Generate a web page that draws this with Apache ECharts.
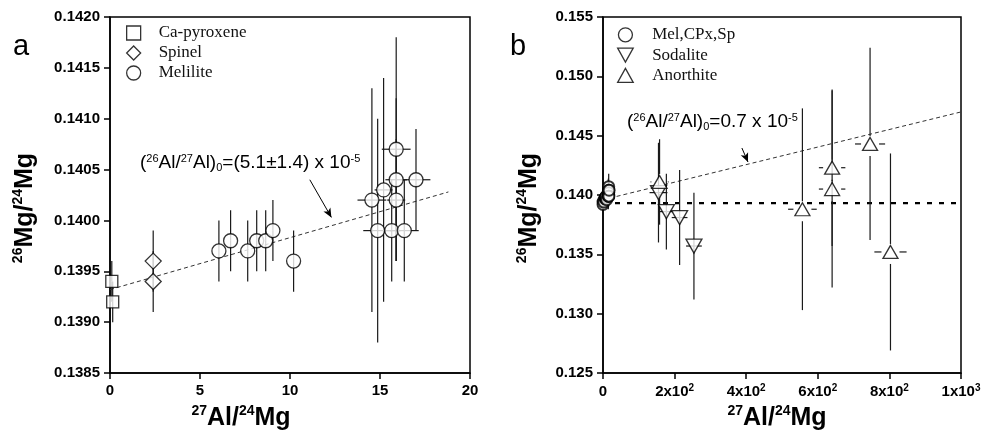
<!DOCTYPE html>
<html>
<head>
<meta charset="utf-8">
<script src="https://cdn.jsdelivr.net/npm/echarts@6/dist/echarts.min.js"></script>
<style>
html,body{margin:0;padding:0;background:#fff;}
#c{width:985px;height:445px;}
</style>
</head>
<body>
<div id="c"></div>
<script>
// ---------- Panel a data ----------
const cpxX = [0.1, 0.15];
const cpxY = [0.1394, 0.1392];
const cpxYErr = [0.0002, 0.0002];

const spX = [2.4, 2.4];
const spY = [0.1396, 0.1394];
const spYErr = [0.0003, 0.0003];

const melX = [6.05, 6.7, 7.65, 8.15, 8.65, 9.05, 10.2, 14.55, 14.87, 15.2, 15.9, 15.9, 15.9, 15.65, 16.35, 17.0];
const melY = [0.1397, 0.1398, 0.1397, 0.1398, 0.1398, 0.1399, 0.1396, 0.1402, 0.1399, 0.1403, 0.1407, 0.1404, 0.1402, 0.1399, 0.1399, 0.1404];
const melYErr = [0.0003, 0.0003, 0.0003, 0.0003, 0.0003, 0.0003, 0.0003, 0.0011, 0.0011, 0.0011, 0.0011, 0.0008, 0.0006, 0.0005, 0.0005, 0.0005];
const melXErr = [0, 0, 0, 0, 0, 0, 0, 0.8, 0.8, 0.5, 0.8, 0.6, 0.5, 0.5, 0.8, 0.8];

const trendA = [[0, 0.13932], [18.8, 0.14028]];
const arrowA = [[11.1, 0.14040], [12.3, 0.14003]];

// ---------- Panel b data ----------
const sodX = [155, 177, 214, 254];
const sodY = [0.1402, 0.1386, 0.1381, 0.1357];
const sodYErr = [0.0042, 0.0032, 0.0040, 0.0045];
const sodXErr = [25, 20, 22, 22];

const anX = [158, 557, 640, 640, 746, 803];
const anY = [0.1411, 0.1388, 0.1423, 0.1405, 0.1443, 0.1352];
const anYErr = [0.0036, 0.0085, 0.0066, 0.0083, 0.0081, 0.0083];
const anXErr = [23, 40, 37, 37, 42, 45];

const trendB = [[0, 0.1396], [1000, 0.1470]];
const refB = [[0, 0.13932], [1000, 0.13932]];
const arrowB = [[388, 0.14396], [405, 0.14278]];

// tick settings
const xTicksA = {min: 0, max: 20, interval: 5};
const yTicksA = {min: 0.1385, max: 0.1420, interval: 0.0005};
const xTicksB = {min: 0, max: 1000, interval: 200};
const yTicksB = {min: 0.125, max: 0.155, interval: 0.005};

// ---------- helpers ----------
const zip = (xs, ys, ey, ex) => xs.map((x, i) => [x, ys[i], ey ? ey[i] : 0, ex ? ex[i] : 0]);
const pts = (xs, ys) => xs.map((x, i) => [x, ys[i]]);

function errRender(gTop, gBot, gH) {
  return function (params, api) {
    const x = api.value(0), y = api.value(1), ey = api.value(2), ex = api.value(3);
    const c = api.coord([x, y]);
    const style = {stroke: '#1a1a1a', lineWidth: 1.2};
    const ch = [];
    if (ey > 0) {
      const t = api.coord([x, y + ey]), b = api.coord([x, y - ey]);
      ch.push({type: 'line', shape: {x1: c[0], y1: t[1], x2: c[0], y2: c[1] - gTop}, style});
      ch.push({type: 'line', shape: {x1: c[0], y1: c[1] + gBot, x2: c[0], y2: b[1]}, style});
    }
    if (ex > 0) {
      const l = api.coord([x - ex, y]), r = api.coord([x + ex, y]);
      ch.push({type: 'line', shape: {x1: l[0], y1: c[1], x2: c[0] - gH, y2: c[1]}, style});
      ch.push({type: 'line', shape: {x1: c[0] + gH, y1: c[1], x2: r[0], y2: c[1]}, style});
    }
    return {type: 'group', children: ch};
  };
}

const FONT = 'Arial, "Liberation Sans", sans-serif';
const SERIF = '"Liberation Serif", "Times New Roman", serif';
const markerStyle = {color: '#fff', borderColor: '#000', borderWidth: 1.3};

function axisCommon() {
  return {
    axisLine: {show: true, lineStyle: {color: '#000', width: 1.5}},
    axisTick: {show: true, length: 6, lineStyle: {color: '#000', width: 1.5}},
    splitLine: {show: false},
    axisLabel: {color: '#000', fontFamily: FONT, fontWeight: 'bold', fontSize: 15}
  };
}

const supRich = {
  n: {fontFamily: FONT, fontWeight: 'bold', fontSize: 15, lineHeight: 18, color: '#000'},
  s: {fontFamily: FONT, fontWeight: 'bold', fontSize: 10, lineHeight: 12, verticalAlign: 'top', color: '#000'}
};

const titleRich = {
  b: {fontFamily: FONT, fontWeight: 'bold', fontSize: 25, lineHeight: 28, fill: '#000'},
  s: {fontFamily: FONT, fontWeight: 'bold', fontSize: 14, lineHeight: 16, verticalAlign: 'top', fill: '#000'}
};
const annRich = {
  t: {fontFamily: FONT, fontSize: 19, lineHeight: 20, fill: '#000'},
  p: {fontFamily: FONT, fontSize: 11, lineHeight: 12, verticalAlign: 'top', fill: '#000'},
  d: {fontFamily: FONT, fontSize: 11, lineHeight: 10, verticalAlign: 'bottom', fill: '#000'}
};

const chart = echarts.init(document.getElementById('c'), null, {renderer: 'canvas'});

const melErrB = zip(cpxX, cpxY, cpxYErr).concat(zip(spX, spY, spYErr)).concat(zip(melX, melY, melYErr));
const melPtsB = pts(cpxX, cpxY).concat(pts(spX, spY)).concat(pts(melX, melY));

const option = {
  animation: false,
  backgroundColor: '#fff',
  grid: [
    {left: 110, right: 515, top: 17, bottom: 72, show: true, borderColor: '#000', borderWidth: 1.5, backgroundColor: 'transparent'},
    {left: 603, right: 24, top: 17, bottom: 72, show: true, borderColor: '#000', borderWidth: 1.5, backgroundColor: 'transparent'}
  ],
  xAxis: [
    Object.assign(axisCommon(), {gridIndex: 0, type: 'value', min: xTicksA.min, max: xTicksA.max, interval: xTicksA.interval,
      axisLabel: Object.assign(axisCommon().axisLabel, {margin: 10})}),
    Object.assign(axisCommon(), {gridIndex: 1, type: 'value', min: xTicksB.min, max: xTicksB.max, interval: xTicksB.interval,
      axisLabel: {margin: 10, color: '#000',
        formatter: v => v === 0 ? '{n|0}' : (v >= 1000 ? '{n|' + (v / 1000) + 'x10}{s|3}' : '{n|' + (v / 100) + 'x10}{s|2}'),
        rich: supRich}})
  ],
  yAxis: [
    Object.assign(axisCommon(), {gridIndex: 0, type: 'value', min: yTicksA.min, max: yTicksA.max, interval: yTicksA.interval,
      axisLabel: Object.assign(axisCommon().axisLabel, {margin: 10, formatter: v => v.toFixed(4)})}),
    Object.assign(axisCommon(), {gridIndex: 1, type: 'value', min: yTicksB.min, max: yTicksB.max, interval: yTicksB.interval,
      axisLabel: Object.assign(axisCommon().axisLabel, {margin: 10, formatter: v => v.toFixed(3)})})
  ],
  legend: [
    {orient: 'vertical', left: 126, top: 24.5, padding: 0, itemWidth: 14, itemHeight: 14, itemGap: 3,
      data: [{name: 'Ca-pyroxene', icon: 'rect'}, {name: 'Spinel', icon: 'diamond'}, {name: 'Melilite', icon: 'circle'}],
      itemStyle: {color: '#fff', borderColor: '#000', borderWidth: 1.3},
      textStyle: {fontFamily: SERIF, fontSize: 17, color: '#111', lineHeight: 14, padding: [0, 0, 0, 13]}, selectedMode: false},
    {orient: 'vertical', left: 617, top: 26.3, padding: 0, itemWidth: 16, itemHeight: 14, itemGap: 3.3,
      data: [{name: 'Mel,CPx,Sp', icon: 'circle'}, {name: 'Sodalite', icon: 'path://M0,0L10,0L5,9Z'}, {name: 'Anorthite', icon: 'path://M5,0L10,9L0,9Z'}],
      itemStyle: {color: '#fff', borderColor: '#000', borderWidth: 1.3},
      textStyle: {fontFamily: SERIF, fontSize: 17, color: '#111', lineHeight: 14, padding: [0, 0, 0, 13.7]}, selectedMode: false}
  ],
  series: [
    // panel a
    {type: 'line', xAxisIndex: 0, yAxisIndex: 0, data: trendA, showSymbol: false, symbol: 'none',
      lineStyle: {color: '#333', width: 1, type: [4, 3]}, z: 1, silent: true,
      markLine: {silent: true, symbol: ['none', 'arrow'], symbolSize: [6, 9], label: {show: false},
        lineStyle: {color: '#000', type: 'solid', width: 1},
        data: [[{coord: arrowA[0]}, {coord: arrowA[1]}]]}},
    {type: 'custom', xAxisIndex: 0, yAxisIndex: 0, renderItem: errRender(0, 0, 0), data: zip(cpxX, cpxY, cpxYErr), encode: {x: 0, y: 1}, z: 2, silent: true},
    {type: 'custom', xAxisIndex: 0, yAxisIndex: 0, renderItem: errRender(0, 0, 0), data: zip(spX, spY, spYErr), encode: {x: 0, y: 1}, z: 2, silent: true},
    {type: 'custom', xAxisIndex: 0, yAxisIndex: 0, renderItem: errRender(0, 0, 0), data: zip(melX, melY, melYErr, melXErr), encode: {x: 0, y: 1}, z: 2, silent: true},
    {name: 'Ca-pyroxene', type: 'scatter', xAxisIndex: 0, yAxisIndex: 0, symbol: 'rect', symbolSize: 12, data: pts(cpxX, cpxY), itemStyle: markerStyle, z: 3},
    {name: 'Spinel', type: 'scatter', xAxisIndex: 0, yAxisIndex: 0, symbol: 'diamond', symbolSize: [16, 16], data: pts(spX, spY), itemStyle: markerStyle, z: 3},
    {name: 'Melilite', type: 'scatter', xAxisIndex: 0, yAxisIndex: 0, symbol: 'circle', symbolSize: 14, data: pts(melX, melY), itemStyle: markerStyle, z: 3},
    // panel b
    {type: 'line', xAxisIndex: 1, yAxisIndex: 1, data: refB, showSymbol: false, symbol: 'none',
      lineStyle: {color: '#000', width: 2.2, type: [5, 7]}, z: 1, silent: true},
    {type: 'line', xAxisIndex: 1, yAxisIndex: 1, data: trendB, showSymbol: false, symbol: 'none',
      lineStyle: {color: '#333', width: 1, type: [4, 3]}, z: 1, silent: true,
      markLine: {silent: true, symbol: ['none', 'arrow'], symbolSize: [6, 9], label: {show: false},
        lineStyle: {color: '#000', type: 'solid', width: 1},
        data: [[{coord: arrowB[0]}, {coord: arrowB[1]}]]}},
    {type: 'custom', xAxisIndex: 1, yAxisIndex: 1, renderItem: errRender(0, 0, 0), data: melErrB, encode: {x: 0, y: 1}, z: 2, silent: true},
    {type: 'custom', xAxisIndex: 1, yAxisIndex: 1, renderItem: errRender(0, 0, 0), data: zip(sodX, sodY, sodYErr, sodXErr), encode: {x: 0, y: 1}, z: 2, silent: true},
    {type: 'custom', xAxisIndex: 1, yAxisIndex: 1, renderItem: errRender(8, 12, 9), data: zip(anX, anY, anYErr, anXErr), encode: {x: 0, y: 1}, z: 2, silent: true},
    {name: 'Mel,CPx,Sp', type: 'scatter', xAxisIndex: 1, yAxisIndex: 1, symbol: 'circle', symbolSize: 11, data: melPtsB,
      itemStyle: {color: '#fff', borderColor: '#000', borderWidth: 2}, z: 3},
    {name: 'Sodalite', type: 'scatter', xAxisIndex: 1, yAxisIndex: 1, symbol: 'path://M0,0L10,0L5,9Z', symbolSize: [16, 14], data: pts(sodX, sodY), itemStyle: markerStyle, z: 3},
    {name: 'Anorthite', type: 'scatter', xAxisIndex: 1, yAxisIndex: 1, symbol: 'path://M5,0L10,9L0,9Z', symbolSize: [15, 13], data: pts(anX, anY), itemStyle: markerStyle, z: 3}
  ],
  graphic: [
    {type: 'text', x: 13, y: 32, style: {text: 'a', font: '29px ' + FONT, fill: '#000', verticalAlign: 'alphabetic'}},
    {type: 'text', x: 510, y: 32, style: {text: 'b', font: '29px ' + FONT, fill: '#000', verticalAlign: 'alphabetic'}},
    // axis titles
    {type: 'text', x: 241, y: 418, style: {text: '{s|27}{b|Al/}{s|24}{b|Mg}', rich: titleRich, align: 'center', verticalAlign: 'middle'}},
    {type: 'text', x: 777, y: 418, style: {text: '{s|27}{b|Al/}{s|24}{b|Mg}', rich: titleRich, align: 'center', verticalAlign: 'middle'}},
    {type: 'text', x: 25, y: 208, rotation: Math.PI / 2, style: {text: '{s|26}{b|Mg/}{s|24}{b|Mg}', rich: titleRich, align: 'center', verticalAlign: 'middle'}},
    {type: 'text', x: 529, y: 208, rotation: Math.PI / 2, style: {text: '{s|26}{b|Mg/}{s|24}{b|Mg}', rich: titleRich, align: 'center', verticalAlign: 'middle'}},
    // annotations
    {type: 'text', x: 140, y: 163, style: {text: '{t|(}{p|26}{t|Al/}{p|27}{t|Al)}{d|0}{t|=(5.1±1.4) x 10}{p|-5}', rich: annRich, align: 'left', verticalAlign: 'middle'}},
    {type: 'text', x: 627, y: 122, style: {text: '{t|(}{p|26}{t|Al/}{p|27}{t|Al)}{d|0}{t|=0.7 x 10}{p|-5}', rich: annRich, align: 'left', verticalAlign: 'middle'}}
  ]
};
chart.setOption(option);
</script>
</body>
</html>
